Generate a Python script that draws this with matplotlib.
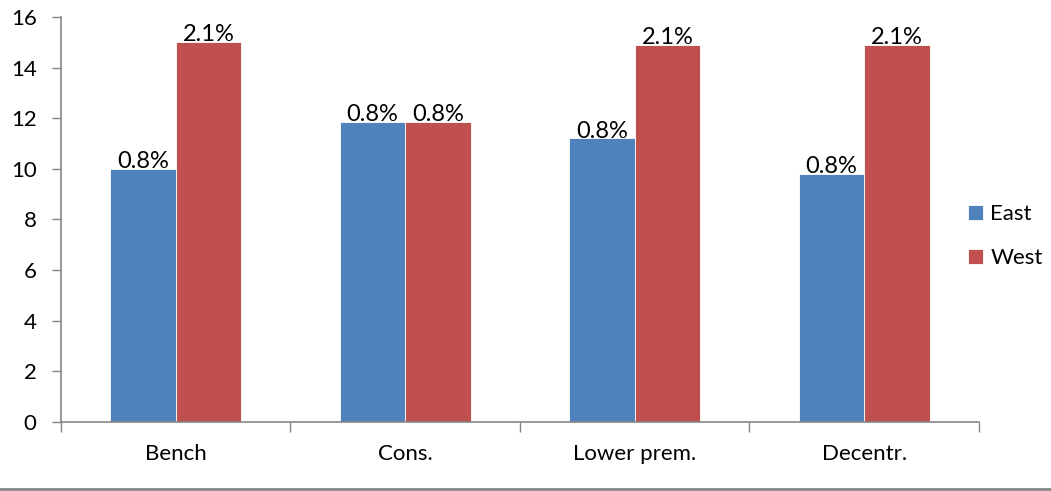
import matplotlib
matplotlib.use("Agg")
import matplotlib.pyplot as plt
from matplotlib.lines import Line2D
import numpy as np

plt.rcParams['font.family'] = ['Lato', 'DejaVu Sans']

categories = ["Bench", "Cons.", "Lower prem.", "Decentr."]
east = [10.0, 11.85, 11.2, 9.8]
west = [15.0, 11.85, 14.9, 14.9]
east_labels = ["0.8%", "0.8%", "0.8%", "0.8%"]
west_labels = ["2.1%", "0.8%", "2.1%", "2.1%"]

blue = "#4f81bd"
red = "#c0504d"
grey = "#868686"

fig = plt.figure(figsize=(10.51, 4.91), dpi=100)
ax = fig.add_axes([0.058, 0.1405, 0.8735, 0.825])

x = np.arange(len(categories))
w = 0.286
b1 = ax.bar(x - w/2, east, w, color=blue, edgecolor="white", linewidth=0.6, label="East")
b2 = ax.bar(x + w/2, west, w, color=red, edgecolor="white", linewidth=0.6, label="West")

for bars, labs in ((b1, east_labels), (b2, west_labels)):
    for r, t in zip(bars, labs):
        ax.text(r.get_x() + r.get_width()/2, r.get_height() - 0.12, t,
                ha="center", va="bottom", fontsize=17, color="black")

ax.set_xlim(-0.5, len(categories) - 0.5)
ax.set_ylim(0, 16)
ax.set_yticks(range(0, 17, 2))
ax.tick_params(axis="y", labelsize=16, color=grey, length=6.5, width=1, pad=11)
ax.set_xticks(x)
ax.set_xticklabels(categories, fontsize=16)
ax.tick_params(axis="x", length=0, pad=16)
# category separators on the x axis
ax.set_xticks(np.arange(-0.5, len(categories)), minor=True)
ax.tick_params(axis="x", which="minor", length=7, color=grey, width=1)

for s in ("top", "right"):
    ax.spines[s].set_visible(False)
for s in ("left", "bottom"):
    ax.spines[s].set_color(grey)
    ax.spines[s].set_linewidth(1.2)

ax.legend(loc="center left", bbox_to_anchor=(0.921, 0.519),
          bbox_transform=fig.transFigure, frameon=False, borderpad=0,
          borderaxespad=0, fontsize=16, handlelength=0.68, handleheight=0.68,
          handletextpad=0.32, labelspacing=1.1)

fig.add_artist(Line2D([0, 1], [0.004, 0.004], color=grey, linewidth=2))

fig.savefig("out.png", dpi=100)
